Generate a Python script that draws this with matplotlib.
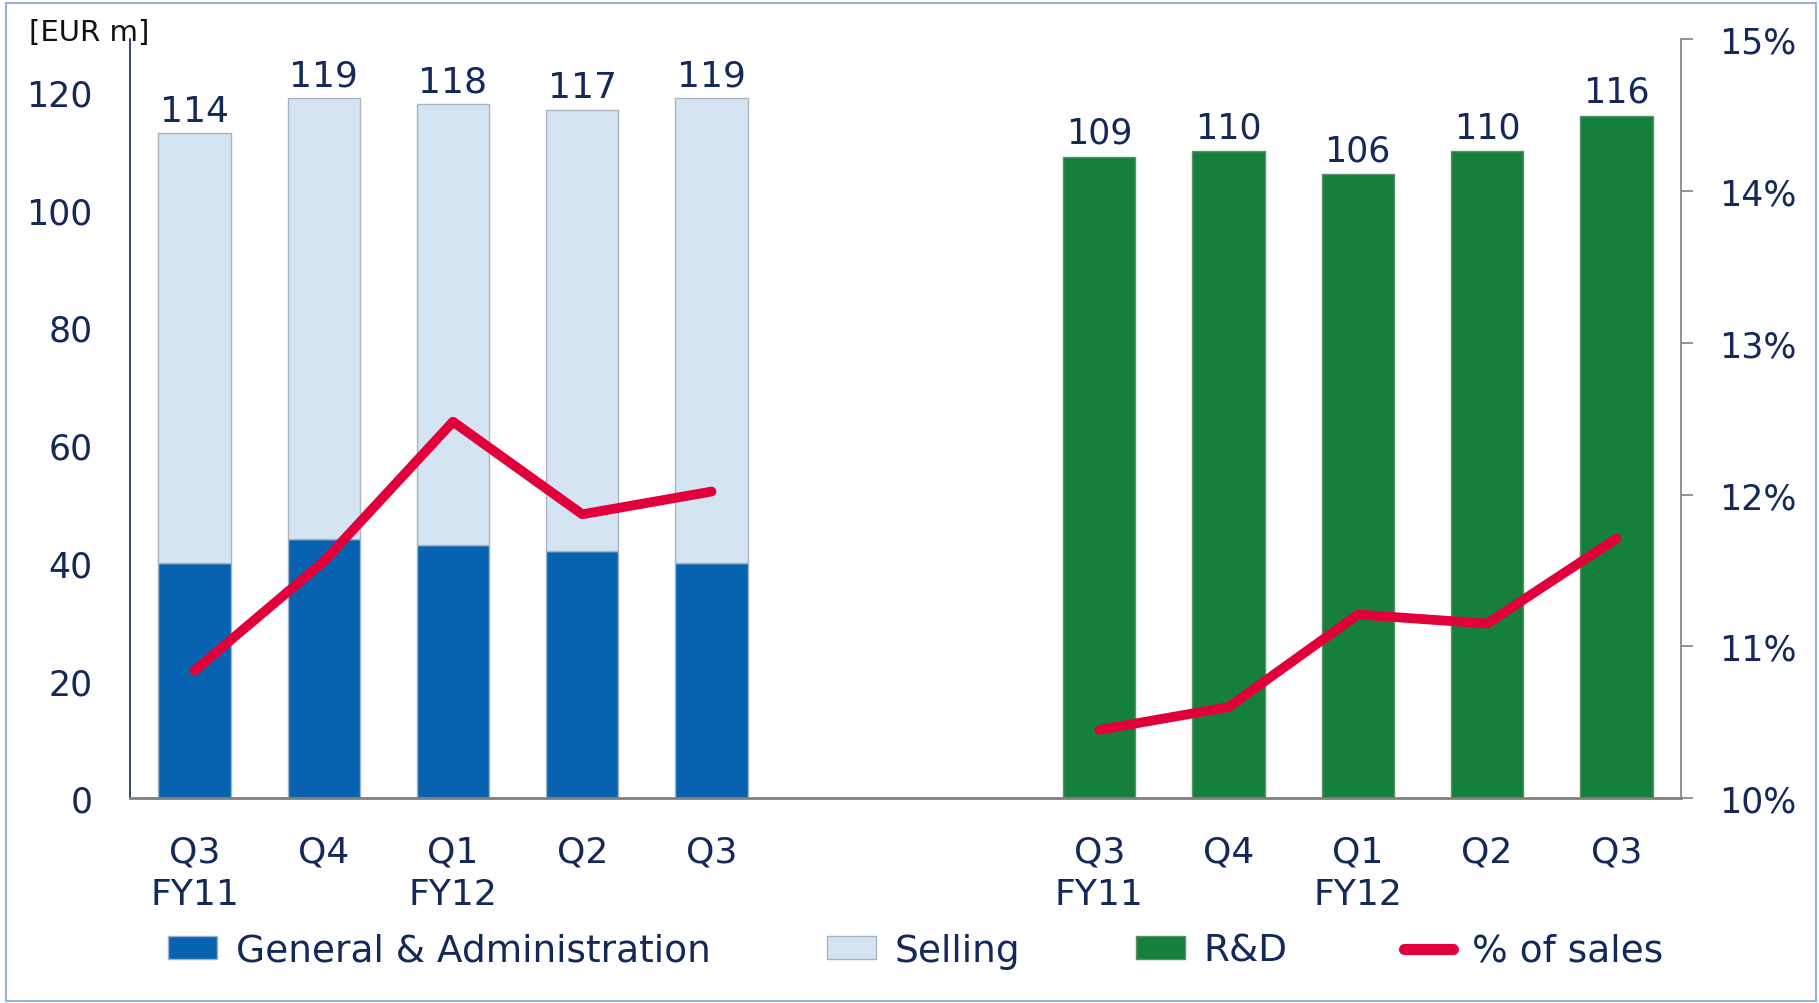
import matplotlib
matplotlib.use("Agg")
import matplotlib.pyplot as plt
from matplotlib.patches import Patch, Rectangle
from matplotlib.lines import Line2D
import numpy as np

# data
quarters = ["Q3\nFY11", "Q4", "Q1\nFY12", "Q2", "Q3"]
ga = [40, 44, 43, 42, 40]
selling = [73, 75, 75, 75, 79]
sga_total = [114, 119, 118, 117, 119]
sga_pct = [10.84, 11.56, 12.48, 11.87, 12.02]
rnd = [109, 110, 106, 110, 116]
rnd_pct = [10.45, 10.60, 11.21, 11.15, 11.71]

NAVY = "#14285A"
BLUE = "#0763B0"
LIGHT = "#D5E4F2"
GREEN = "#15803C"
RED = "#E2003A"
GRAY = "#808080"
FS = 25

plt.rcParams["font.family"] = ["DejaVu Sans"]

x1 = np.arange(5)
x2 = np.arange(5) + 7
width = 0.56

fig = plt.figure(figsize=(18.19, 10.04), dpi=100)
ax = fig.add_axes([0.0714, 0.204, 0.8527, 0.756])
ax2 = ax.twinx()

ax.bar(x1, ga, width, color=BLUE, edgecolor="#9DB3C8", linewidth=1)
ax.bar(x1, selling, width, bottom=ga, color=LIGHT, edgecolor="#A9B4BF", linewidth=1)
ax.bar(x2, rnd, width, color=GREEN, edgecolor="#5E8F6C", linewidth=1)

tops = np.array(ga) + np.array(selling)
for x, top, v in zip(x1, tops, sga_total):
    ax.annotate(str(v), (x, top), xytext=(0, 4), textcoords="offset points",
                ha="center", va="bottom", fontsize=FS + 1, color=NAVY)
for x, v in zip(x2, rnd):
    ax.annotate(str(v), (x, v), xytext=(0, 5), textcoords="offset points",
                ha="center", va="bottom", fontsize=FS, color=NAVY)

ax2.plot(x1, sga_pct, color=RED, linewidth=7, solid_capstyle="round")
ax2.plot(x2, rnd_pct, color=RED, linewidth=7, solid_capstyle="round")

ax.set_xlim(-0.5, 11.5)
ax.set_ylim(0, 129)
ax.set_yticks([0, 20, 40, 60, 80, 100, 120])
ax2.set_ylim(10, 15)
ax2.set_yticks([10, 11, 12, 13, 14, 15])
ax2.set_yticklabels([f"{v}%" for v in range(10, 16)])

ax.set_xticks(list(x1) + list(x2))
ax.set_xticklabels(quarters + quarters, linespacing=1.32)
ax.tick_params(axis="x", length=0, pad=26, labelsize=FS + 1, labelcolor=NAVY)
ax.tick_params(axis="y", length=0, pad=27, labelsize=FS, labelcolor=NAVY)
ax2.tick_params(axis="y", length=8.6, width=1.2, color=GRAY, pad=19, labelsize=FS, labelcolor=NAVY)

for a in (ax, ax2):
    a.spines["top"].set_visible(False)
ax.spines["right"].set_visible(False)
ax.spines["left"].set_color(NAVY)
ax.spines["left"].set_linewidth(1.2)
ax.spines["bottom"].set_color(GRAY)
ax.spines["bottom"].set_linewidth(2)
ax2.spines["left"].set_visible(False)
ax2.spines["bottom"].set_visible(False)
ax2.spines["right"].set_color(GRAY)
ax2.spines["right"].set_linewidth(1.2)

fig.text(0.016, 0.967, "[EUR m]", fontsize=21, color="#111111", va="center")

handles = [
    Patch(facecolor=BLUE, edgecolor="#9DB3C8", label="General & Administration"),
    Patch(facecolor=LIGHT, edgecolor="#A9B4BF", label="Selling"),
    Patch(facecolor=GREEN, edgecolor="#5E8F6C", label="R&D"),
    Line2D([0], [0], color=RED, linewidth=8, solid_capstyle="round", label="% of sales"),
]
leg = fig.legend(handles=handles, loc="center left", bbox_to_anchor=(0.0925, 0.052), ncol=4,
                 frameon=False, fontsize=27, handlelength=1.3, handleheight=0.55,
                 columnspacing=3.1, handletextpad=0.5, borderpad=0, borderaxespad=0)
for t in leg.get_texts():
    t.set_color(NAVY)

fig.patches.append(Rectangle((0.0033, 0.002), 0.995, 0.994, transform=fig.transFigure,
                             fill=False, edgecolor="#95B3D7", linewidth=1.5))

fig.savefig("out.png", dpi=100)
